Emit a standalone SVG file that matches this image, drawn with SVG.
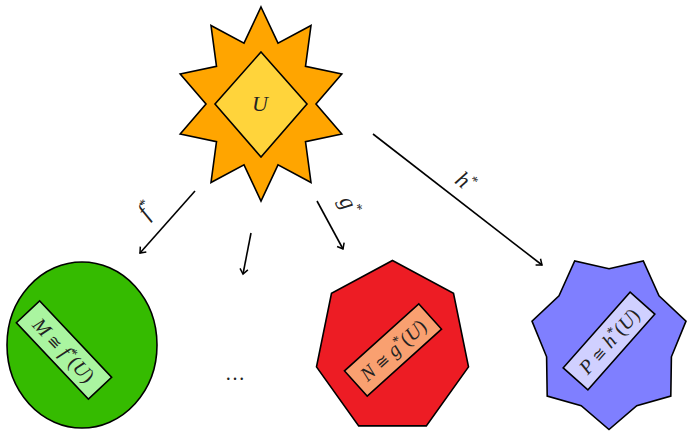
<svg xmlns="http://www.w3.org/2000/svg" width="689" height="437" viewBox="0 0 689 437">
<style>
.sh{stroke:#000;stroke-width:1.6;stroke-linejoin:miter}
.t{font-family:"Liberation Serif","DejaVu Serif",serif;font-size:20px;fill:#222;text-anchor:middle}
.i{font-style:italic}
.s{font-size:14px}
.q{font-family:"DejaVu Serif",serif;font-size:16px}
.l{font-size:23px}
.c{stroke:#000;stroke-width:1.6;fill:none}
</style>
<defs>
<marker id="ah" viewBox="-6 -5 8 10" markerWidth="8" markerHeight="10" refX="0" refY="0" orient="auto" markerUnits="userSpaceOnUse">
<path d="M-5,-4 L0,0 L-5,4" fill="none" stroke="#000" stroke-width="1.5"/>
</marker>
</defs>
<rect width="689" height="437" fill="#fff"/>
<g id="U">
<polygon class="sh" fill="#FFA500" points="261,7 278,43.1 311,25.5 305.5,66.4 341.8,74 316,104 341.8,134 305.5,141.6 311,182.5 278,164.9 261,201 244,164.9 211,182.5 216.5,141.6 180.2,134 206,104 180.2,74 216.5,66.4 211,25.5 244,43.1"/>
<polygon class="sh" fill="#FFD43B" points="261,52 307,104 261,157 215,104"/>
<text class="t i" x="260" y="111" style="font-size:22px">U</text>
</g>
<g id="M">
<ellipse class="sh" fill="#35BB00" cx="82" cy="345" rx="75" ry="83"/>
<g transform="translate(64,350) rotate(46.7)">
<rect class="sh" fill="#AAF5A0" x="-52.5" y="-16" width="105" height="32"/>
<text class="t" x="0" y="7"><tspan class="i">M</tspan> <tspan class="q">≅</tspan> <tspan class="i">f</tspan><tspan class="s" dy="-7">*</tspan><tspan dy="7">(</tspan><tspan class="i">U</tspan>)</text>
</g>
</g>
<g id="N">
<polygon class="sh" fill="#ED1C24" points="392.5,260.5 453.5,293.3 468.5,366.9 426.3,425.9 358.7,425.9 316.5,366.9 331.5,293.3"/>
<g transform="translate(393,350) rotate(-42)">
<rect class="sh" fill="#F9A070" x="-50" y="-17" width="100" height="34"/>
<text class="t" x="0" y="7"><tspan class="i">N</tspan> <tspan class="q">≅</tspan> <tspan class="i">g</tspan><tspan class="s" dy="-7">*</tspan><tspan dy="7">(</tspan><tspan class="i">U</tspan>)</text>
</g>
</g>
<g id="P">
<polygon class="sh" fill="#7F7FFF" points="609,268.8 643.3,260.9 659,295.9 686,321.1 671.4,356.8 670.8,396.1 636.8,405.7 609,429.5 581.2,405.7 547.2,396.1 546.6,356.8 532,321.1 559,295.9 574.7,260.9"/>
<g transform="translate(609,341) rotate(-48.5)">
<rect class="sh" fill="#D0D0FF" x="-50.5" y="-16.5" width="101" height="33"/>
<text class="t" x="0" y="7"><tspan class="i">P</tspan> <tspan class="q">≅</tspan> <tspan class="i">h</tspan><tspan class="s" dy="-7">*</tspan><tspan dy="7">(</tspan><tspan class="i">U</tspan>)</text>
</g>
</g>
<g id="dots">
<text class="t" x="235" y="380">…</text>
</g>
<g id="connectors">
<line class="c" x1="195" y1="191" x2="140" y2="253" marker-end="url(#ah)"/>
<line class="c" x1="251" y1="233" x2="243" y2="274" marker-end="url(#ah)"/>
<line class="c" x1="317" y1="201" x2="343" y2="249" marker-end="url(#ah)"/>
<line class="c" x1="373" y1="134" x2="542" y2="265" marker-end="url(#ah)"/>
<text class="t l" transform="translate(152,215) rotate(-49)"><tspan class="i">f</tspan><tspan class="s" dy="-9">*</tspan></text>
<text class="t l" transform="translate(343,209) rotate(62.5)"><tspan class="i">g</tspan><tspan class="s" dy="-9">*</tspan></text>
<text class="t l" transform="translate(461,188) rotate(37.9)"><tspan class="i">h</tspan><tspan class="s" dy="-9">*</tspan></text>
</g>
</svg>
